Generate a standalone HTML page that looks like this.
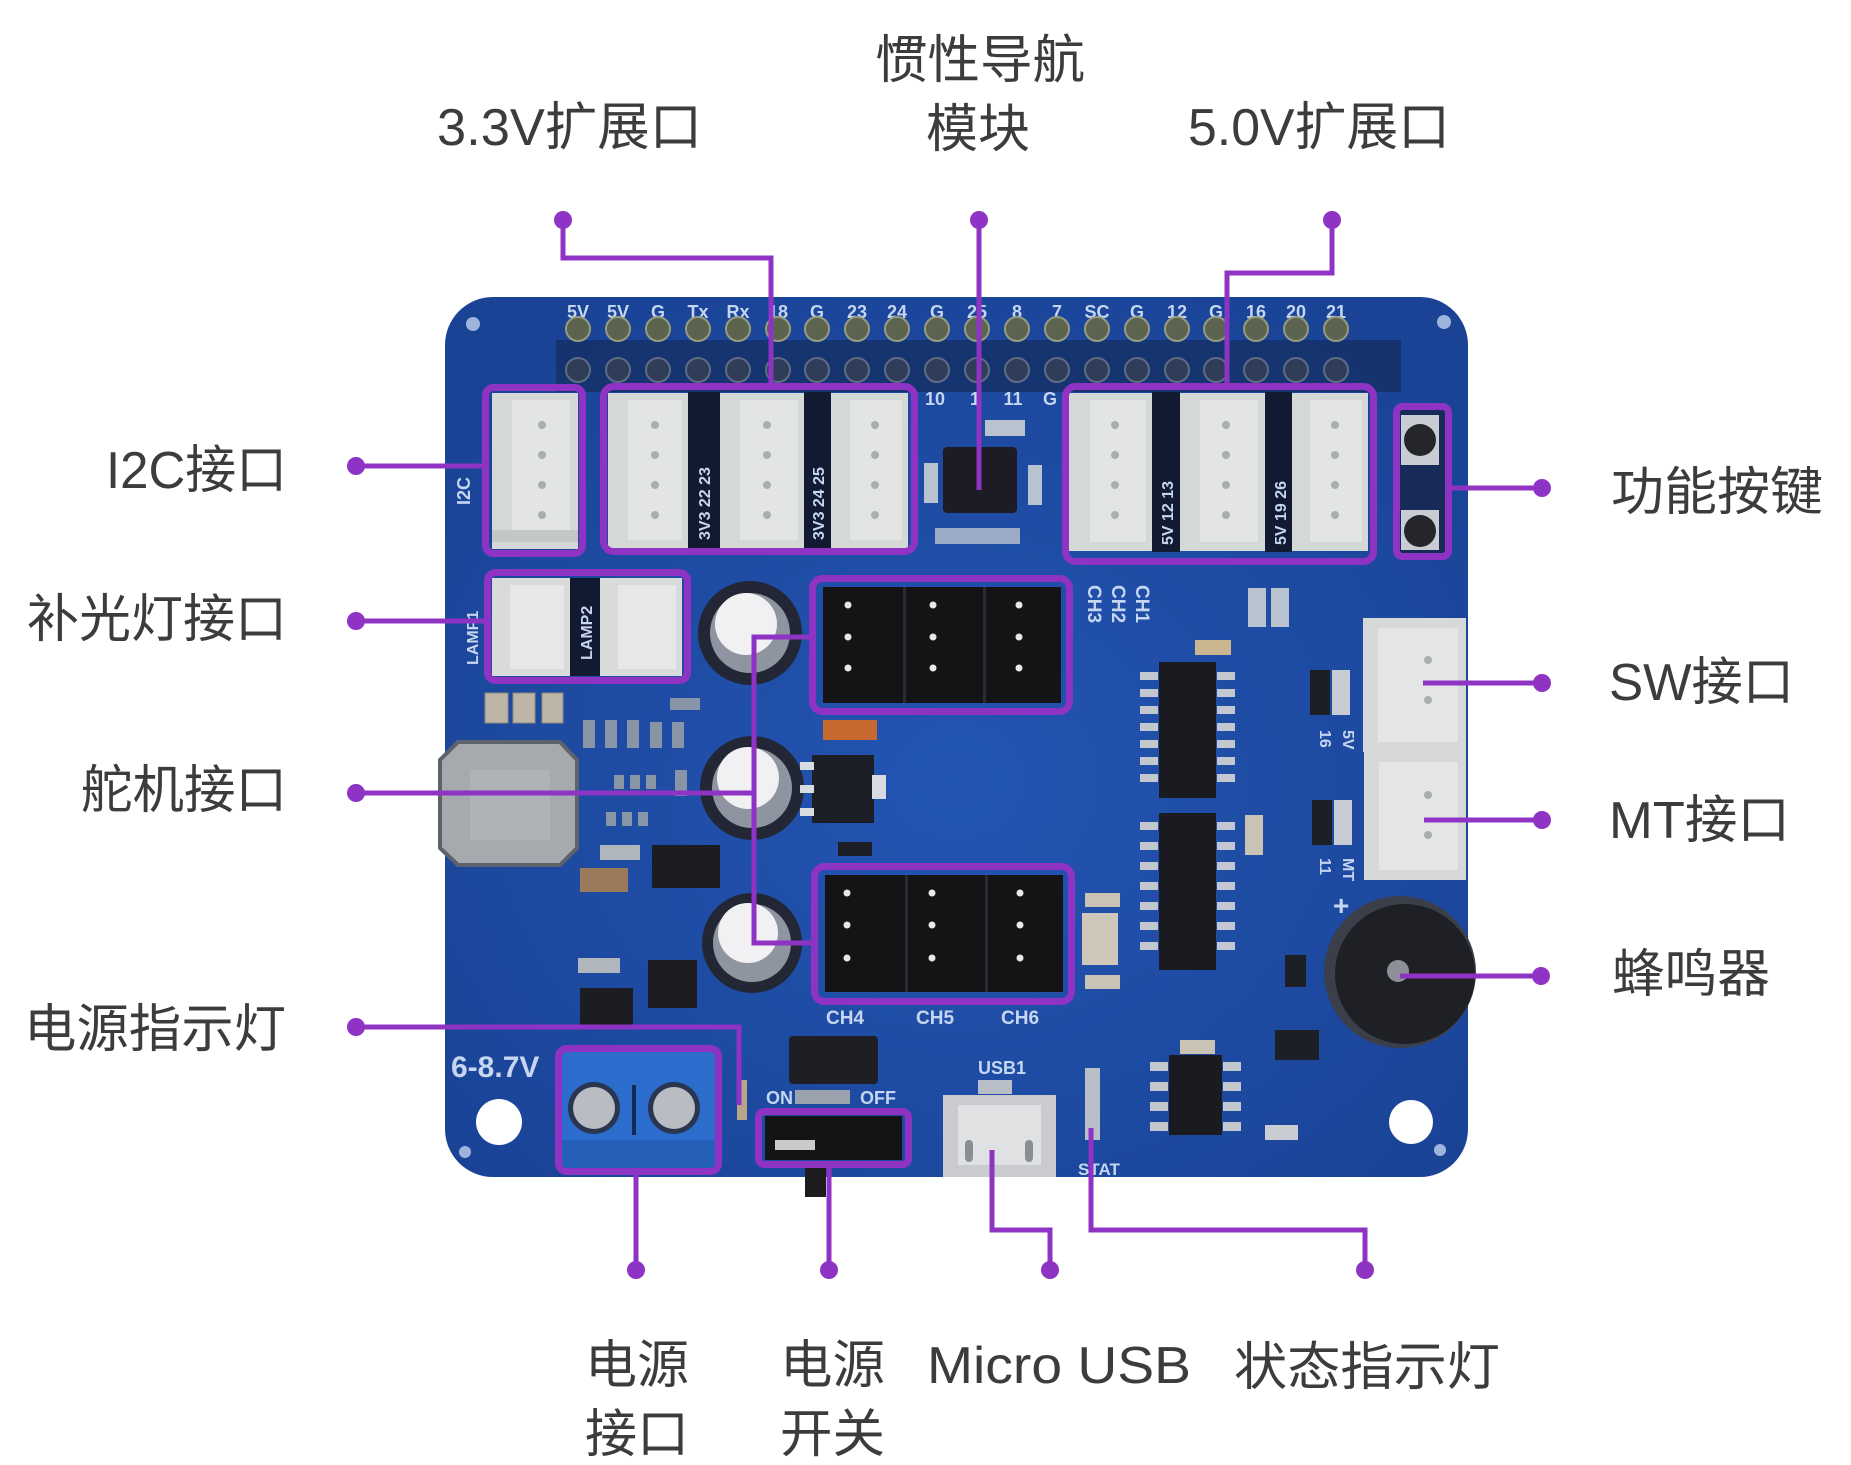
<!DOCTYPE html>
<html><head><meta charset="utf-8">
<style>
html,body{margin:0;padding:0;background:#fff;}
svg{display:block;}
.lbl{font-family:"Liberation Sans","Noto Sans CJK SC",sans-serif;font-size:52px;fill:#3c3c3c;}
.silk{font-family:"Liberation Sans",sans-serif;font-weight:bold;fill:#c6d6f0;}
</style></head><body>
<svg width="1851" height="1465" viewBox="0 0 1851 1465" xmlns="http://www.w3.org/2000/svg">
<defs>
<radialGradient id="pcb" cx="50%" cy="55%" r="65%">
<stop offset="0" stop-color="#2355b3"/><stop offset="1" stop-color="#1a4396"/>
</radialGradient>
</defs>
<rect width="1851" height="1465" fill="#fff"/>

<!-- BOARD -->
<rect x="445" y="297" width="1023" height="880" rx="48" fill="url(#pcb)"/>
<rect x="556" y="340" width="845" height="52" fill="#16326a" opacity="0.9"/>

<!-- header silk labels -->
<g class="silk" font-size="18" text-anchor="middle">
<text x="578" y="318">5V</text><text x="618" y="318">5V</text><text x="658" y="318">G</text><text x="698" y="318">Tx</text><text x="738" y="318">Rx</text>
<text x="778" y="318">18</text><text x="817" y="318">G</text><text x="857" y="318">23</text><text x="897" y="318">24</text><text x="937" y="318">G</text>
<text x="977" y="318">25</text><text x="1017" y="318">8</text><text x="1057" y="318">7</text><text x="1097" y="318">SC</text><text x="1137" y="318">G</text>
<text x="1177" y="318">12</text><text x="1216" y="318">G</text><text x="1256" y="318">16</text><text x="1296" y="318">20</text><text x="1336" y="318">21</text>
<text x="935" y="405">10</text><text x="975" y="405">1</text><text x="1013" y="405">11</text><text x="1050" y="405">G</text>
</g>
<!-- header pins -->
<g fill="#5c644f" stroke="#959b80" stroke-width="2">
<circle cx="578" cy="329" r="12"/><circle cx="618" cy="329" r="12"/><circle cx="658" cy="329" r="12"/><circle cx="698" cy="329" r="12"/><circle cx="738" cy="329" r="12"/>
<circle cx="778" cy="329" r="12"/><circle cx="817" cy="329" r="12"/><circle cx="857" cy="329" r="12"/><circle cx="897" cy="329" r="12"/><circle cx="937" cy="329" r="12"/>
<circle cx="977" cy="329" r="12"/><circle cx="1017" cy="329" r="12"/><circle cx="1057" cy="329" r="12"/><circle cx="1097" cy="329" r="12"/><circle cx="1137" cy="329" r="12"/>
<circle cx="1177" cy="329" r="12"/><circle cx="1216" cy="329" r="12"/><circle cx="1256" cy="329" r="12"/><circle cx="1296" cy="329" r="12"/><circle cx="1336" cy="329" r="12"/>
</g>
<g fill="#2f3d58" stroke="#5f6c86" stroke-width="2">
<circle cx="578" cy="370" r="12"/><circle cx="618" cy="370" r="12"/><circle cx="658" cy="370" r="12"/><circle cx="698" cy="370" r="12"/><circle cx="738" cy="370" r="12"/>
<circle cx="778" cy="370" r="12"/><circle cx="817" cy="370" r="12"/><circle cx="857" cy="370" r="12"/><circle cx="897" cy="370" r="12"/><circle cx="937" cy="370" r="12"/>
<circle cx="977" cy="370" r="12"/><circle cx="1017" cy="370" r="12"/><circle cx="1057" cy="370" r="12"/><circle cx="1097" cy="370" r="12"/><circle cx="1137" cy="370" r="12"/>
<circle cx="1177" cy="370" r="12"/><circle cx="1216" cy="370" r="12"/><circle cx="1256" cy="370" r="12"/><circle cx="1296" cy="370" r="12"/><circle cx="1336" cy="370" r="12"/>
</g>
<!-- corner holes -->
<circle cx="473" cy="324" r="7" fill="#9fb4dc"/><circle cx="1444" cy="322" r="7" fill="#9fb4dc"/>
<circle cx="465" cy="1152" r="6" fill="#9fb4dc"/><circle cx="1440" cy="1150" r="6" fill="#9fb4dc"/>

<!-- I2C connector -->
<rect x="492" y="393" width="86" height="156" fill="#d4d8d6"/>
<rect x="512" y="400" width="58" height="140" fill="#e3e5e3"/>
<rect x="492" y="530" width="86" height="12" fill="#c3c7c5"/>
<g fill="#a9afad"><circle cx="542" cy="425" r="4"/><circle cx="542" cy="455" r="4"/><circle cx="542" cy="485" r="4"/><circle cx="542" cy="515" r="4"/></g>
<text class="silk" font-size="18" transform="translate(470,505) rotate(-90)">I2C</text>

<!-- 3.3V connectors -->
<rect x="688" y="392" width="32" height="158" fill="#111a30"/>
<rect x="804" y="392" width="27" height="158" fill="#111a30"/>
<rect x="608" y="393" width="80" height="156" fill="#d4d8d6"/>
<rect x="628" y="400" width="54" height="140" fill="#e3e5e3"/>
<rect x="720" y="393" width="84" height="156" fill="#d4d8d6"/>
<rect x="740" y="400" width="58" height="140" fill="#e3e5e3"/>
<rect x="831" y="393" width="77" height="156" fill="#d4d8d6"/>
<rect x="850" y="400" width="52" height="140" fill="#e3e5e3"/>
<g fill="#a9afad">
<circle cx="655" cy="425" r="4"/><circle cx="655" cy="455" r="4"/><circle cx="655" cy="485" r="4"/><circle cx="655" cy="515" r="4"/>
<circle cx="767" cy="425" r="4"/><circle cx="767" cy="455" r="4"/><circle cx="767" cy="485" r="4"/><circle cx="767" cy="515" r="4"/>
<circle cx="875" cy="425" r="4"/><circle cx="875" cy="455" r="4"/><circle cx="875" cy="485" r="4"/><circle cx="875" cy="515" r="4"/>
</g>
<text class="silk" font-size="16" transform="translate(710,540) rotate(-90)">3V3  22  23</text>
<text class="silk" font-size="16" transform="translate(824,540) rotate(-90)">3V3  24  25</text>

<!-- IMU chip -->
<rect x="985" y="420" width="40" height="16" fill="#b9c2cf"/>
<rect x="924" y="463" width="14" height="40" fill="#b9c2cf"/>
<rect x="1028" y="465" width="14" height="40" fill="#b9c2cf"/>
<rect x="943" y="447" width="74" height="66" rx="4" fill="#1c1d24"/>
<rect x="935" y="528" width="85" height="16" fill="#b9c2cf" opacity="0.8"/>

<!-- 5.0V connectors -->
<rect x="1152" y="392" width="28" height="160" fill="#111a30"/>
<rect x="1265" y="392" width="27" height="160" fill="#111a30"/>
<rect x="1068" y="393" width="84" height="158" fill="#d4d8d6"/>
<rect x="1090" y="400" width="56" height="142" fill="#e3e5e3"/>
<rect x="1180" y="393" width="85" height="158" fill="#d4d8d6"/>
<rect x="1200" y="400" width="58" height="142" fill="#e3e5e3"/>
<rect x="1292" y="393" width="76" height="158" fill="#d4d8d6"/>
<rect x="1310" y="400" width="52" height="142" fill="#e3e5e3"/>
<g fill="#a9afad">
<circle cx="1115" cy="425" r="4"/><circle cx="1115" cy="455" r="4"/><circle cx="1115" cy="485" r="4"/><circle cx="1115" cy="515" r="4"/>
<circle cx="1226" cy="425" r="4"/><circle cx="1226" cy="455" r="4"/><circle cx="1226" cy="485" r="4"/><circle cx="1226" cy="515" r="4"/>
<circle cx="1335" cy="425" r="4"/><circle cx="1335" cy="455" r="4"/><circle cx="1335" cy="485" r="4"/><circle cx="1335" cy="515" r="4"/>
</g>
<text class="silk" font-size="16" transform="translate(1173,545) rotate(-90)">5V  12  13</text>
<text class="silk" font-size="16" transform="translate(1286,545) rotate(-90)">5V  19  26</text>

<!-- buttons -->
<rect x="1398" y="408" width="50" height="147" fill="#172a58"/>
<rect x="1401" y="415" width="38" height="50" fill="#c9ccd2"/>
<rect x="1401" y="510" width="38" height="40" fill="#c9ccd2"/>
<circle cx="1420" cy="440" r="16" fill="#24262c"/>
<circle cx="1420" cy="531" r="16" fill="#24262c"/>

<!-- fill-light connectors -->
<rect x="570" y="578" width="30" height="98" fill="#111a30"/>
<rect x="492" y="578" width="78" height="98" fill="#d8dbda"/>
<rect x="510" y="585" width="54" height="84" fill="#e6e7e6"/>
<rect x="600" y="578" width="82" height="98" fill="#d8dbda"/>
<rect x="618" y="585" width="58" height="84" fill="#e6e7e6"/>
<text class="silk" font-size="16" transform="translate(592,660) rotate(-90)">LAMP2</text>
<text class="silk" font-size="16" transform="translate(478,665) rotate(-90)">LAMP1</text>

<!-- SMD small parts left -->
<g fill="#bdb6a6" stroke="#8f8a80" stroke-width="1">
<rect x="485" y="693" width="23" height="30"/><rect x="513" y="693" width="22" height="30"/><rect x="542" y="693" width="21" height="30"/>
</g>
<g fill="#9aa2a8" opacity="0.85">
<rect x="583" y="720" width="12" height="28"/><rect x="605" y="720" width="12" height="28"/><rect x="627" y="720" width="12" height="28"/>
<rect x="650" y="722" width="12" height="26"/><rect x="672" y="722" width="12" height="26"/>
<rect x="670" y="698" width="30" height="12"/><rect x="675" y="770" width="12" height="26"/>
<rect x="614" y="775" width="10" height="14"/><rect x="630" y="775" width="10" height="14"/><rect x="646" y="775" width="10" height="14"/>
<rect x="606" y="812" width="10" height="14"/><rect x="622" y="812" width="10" height="14"/><rect x="638" y="812" width="10" height="14"/>
</g>

<!-- inductor -->
<polygon points="458,742 560,742 577,760 577,848 560,865 458,865 440,848 440,760" fill="#a6aaaf" stroke="#5d626b" stroke-width="4"/>
<rect x="470" y="770" width="80" height="70" fill="#b2b6ba" opacity="0.7"/>

<!-- capacitors -->
<g>
<circle cx="750" cy="633" r="52" fill="#232735"/><circle cx="750" cy="633" r="40" fill="#8e95a0"/><circle cx="746" cy="624" r="31" fill="#f1f1f4"/>
<circle cx="752" cy="788" r="52" fill="#232735"/><circle cx="752" cy="788" r="40" fill="#8e95a0"/><circle cx="748" cy="778" r="31" fill="#f1f1f4"/>
<circle cx="752" cy="943" r="50" fill="#232735"/><circle cx="752" cy="943" r="39" fill="#8e95a0"/><circle cx="748" cy="933" r="30" fill="#f1f1f4"/>
</g>

<!-- servo headers -->
<rect x="823" y="587" width="238" height="116" fill="#141416"/>
<rect x="903" y="587" width="3" height="116" fill="#2c2c30"/><rect x="983" y="587" width="3" height="116" fill="#2c2c30"/>
<rect x="825" y="875" width="238" height="117" fill="#141416"/>
<rect x="905" y="875" width="3" height="117" fill="#2c2c30"/><rect x="985" y="875" width="3" height="117" fill="#2c2c30"/>
<g fill="#e8e8e8">
<circle cx="848" cy="605" r="3.5"/><circle cx="848" cy="637" r="3.5"/><circle cx="848" cy="668" r="3.5"/>
<circle cx="933" cy="605" r="3.5"/><circle cx="933" cy="637" r="3.5"/><circle cx="933" cy="668" r="3.5"/>
<circle cx="1019" cy="605" r="3.5"/><circle cx="1019" cy="637" r="3.5"/><circle cx="1019" cy="668" r="3.5"/>
<circle cx="847" cy="893" r="3.5"/><circle cx="847" cy="925" r="3.5"/><circle cx="847" cy="958" r="3.5"/>
<circle cx="932" cy="893" r="3.5"/><circle cx="932" cy="925" r="3.5"/><circle cx="932" cy="958" r="3.5"/>
<circle cx="1020" cy="893" r="3.5"/><circle cx="1020" cy="925" r="3.5"/><circle cx="1020" cy="958" r="3.5"/>
</g>
<g class="silk" font-size="19">
<text transform="translate(1088,585) rotate(90)">CH3</text>
<text transform="translate(1112,585) rotate(90)">CH2</text>
<text transform="translate(1136,585) rotate(90)">CH1</text>
<text x="826" y="1024">CH4</text><text x="916" y="1024">CH5</text><text x="1001" y="1024">CH6</text>
</g>

<!-- regulator / misc middle-left -->
<rect x="823" y="720" width="54" height="20" fill="#c76a32"/>
<rect x="812" y="755" width="62" height="68" fill="#1d1f26"/>
<g fill="#d8dbe0"><rect x="800" y="762" width="14" height="8"/><rect x="800" y="785" width="14" height="8"/><rect x="800" y="808" width="14" height="8"/><rect x="872" y="775" width="14" height="24"/></g>
<rect x="838" y="842" width="34" height="14" fill="#1d1f26"/>
<rect x="652" y="845" width="68" height="43" fill="#1c1d22"/>
<rect x="580" y="868" width="48" height="24" fill="#9b7a5c"/>
<rect x="600" y="845" width="40" height="15" fill="#b0b6be"/>
<rect x="578" y="958" width="42" height="15" fill="#b0b6be"/>
<rect x="580" y="988" width="53" height="40" fill="#1c1d22"/>
<rect x="648" y="960" width="49" height="48" fill="#1c1d22"/>
<rect x="737" y="1080" width="10" height="40" fill="#b9a58a"/>

<!-- right side ICs -->
<rect x="1195" y="640" width="36" height="15" fill="#c9b58e"/>
<rect x="1248" y="588" width="18" height="39" fill="#b9c2cf"/><rect x="1271" y="588" width="18" height="39" fill="#b9c2cf"/>
<g fill="#c3c8cf">
<rect x="1140" y="672" width="18" height="8"/><rect x="1140" y="689" width="18" height="8"/><rect x="1140" y="706" width="18" height="8"/><rect x="1140" y="723" width="18" height="8"/>
<rect x="1140" y="740" width="18" height="8"/><rect x="1140" y="757" width="18" height="8"/><rect x="1140" y="774" width="18" height="8"/>
<rect x="1217" y="672" width="18" height="8"/><rect x="1217" y="689" width="18" height="8"/><rect x="1217" y="706" width="18" height="8"/><rect x="1217" y="723" width="18" height="8"/>
<rect x="1217" y="740" width="18" height="8"/><rect x="1217" y="757" width="18" height="8"/><rect x="1217" y="774" width="18" height="8"/>
<rect x="1140" y="822" width="18" height="8"/><rect x="1140" y="842" width="18" height="8"/><rect x="1140" y="862" width="18" height="8"/><rect x="1140" y="882" width="18" height="8"/>
<rect x="1140" y="902" width="18" height="8"/><rect x="1140" y="922" width="18" height="8"/><rect x="1140" y="942" width="18" height="8"/>
<rect x="1217" y="822" width="18" height="8"/><rect x="1217" y="842" width="18" height="8"/><rect x="1217" y="862" width="18" height="8"/><rect x="1217" y="882" width="18" height="8"/>
<rect x="1217" y="902" width="18" height="8"/><rect x="1217" y="922" width="18" height="8"/><rect x="1217" y="942" width="18" height="8"/>
</g>
<rect x="1159" y="662" width="57" height="136" fill="#1a1b20"/>
<rect x="1159" y="813" width="57" height="157" fill="#1a1b20"/>
<rect x="1245" y="815" width="18" height="40" fill="#c9c3b5"/>
<rect x="1085" y="893" width="35" height="14" fill="#c9c3b5"/>
<rect x="1082" y="913" width="36" height="52" fill="#cfc8ba"/>
<rect x="1085" y="975" width="35" height="14" fill="#c9c3b5"/>
<rect x="1310" y="670" width="20" height="45" fill="#1d1f26"/><rect x="1332" y="670" width="18" height="45" fill="#c9ccd2"/>
<rect x="1312" y="800" width="20" height="45" fill="#1d1f26"/><rect x="1334" y="800" width="18" height="45" fill="#c9ccd2"/>
<g class="silk" font-size="16">
<text transform="translate(1320,730) rotate(90)">16</text><text transform="translate(1343,730) rotate(90)">5V</text>
<text transform="translate(1320,858) rotate(90)">11</text><text transform="translate(1343,858) rotate(90)">MT</text>
<text x="1333" y="915" font-size="28">+</text>
</g>

<!-- SW / MT connectors -->
<rect x="1363" y="618" width="103" height="134" fill="#d6d9d8"/>
<rect x="1378" y="628" width="80" height="114" fill="#e4e6e5"/>
<rect x="1364" y="752" width="102" height="128" fill="#d6d9d8"/>
<rect x="1379" y="762" width="79" height="108" fill="#e4e6e5"/>
<g fill="#a9afad"><circle cx="1428" cy="660" r="4"/><circle cx="1428" cy="700" r="4"/><circle cx="1428" cy="795" r="4"/><circle cx="1428" cy="835" r="4"/></g>

<!-- buzzer -->
<circle cx="1400" cy="972" r="76" fill="#3a3f4a"/>
<circle cx="1405" cy="974" r="70" fill="#1e2026"/>
<circle cx="1398" cy="971" r="11" fill="#8d9096"/>
<rect x="1285" y="955" width="21" height="32" fill="#1d1f26"/>
<rect x="1275" y="1030" width="44" height="30" fill="#1d1f26"/>

<!-- bottom right parts -->
<rect x="1180" y="1040" width="35" height="14" fill="#c9c3b5"/>
<g fill="#c3c8cf">
<rect x="1150" y="1062" width="18" height="9"/><rect x="1150" y="1082" width="18" height="9"/><rect x="1150" y="1102" width="18" height="9"/><rect x="1150" y="1122" width="18" height="9"/>
<rect x="1223" y="1062" width="18" height="9"/><rect x="1223" y="1082" width="18" height="9"/><rect x="1223" y="1102" width="18" height="9"/><rect x="1223" y="1122" width="18" height="9"/>
</g>
<rect x="1169" y="1055" width="53" height="80" fill="#1a1b20"/>
<rect x="1265" y="1125" width="33" height="15" fill="#c9ccd2"/>
<rect x="1085" y="1068" width="15" height="72" fill="#b9bfc8"/>
<text class="silk" font-size="17" x="1078" y="1175">STAT</text>

<!-- mounting holes -->
<circle cx="499" cy="1122" r="23" fill="#fff"/>
<circle cx="1411" cy="1122" r="22" fill="#fff"/>

<!-- power terminal -->
<text class="silk" font-size="30" x="451" y="1077">6-8.7V</text>
<rect x="562" y="1052" width="153" height="116" fill="#2b6ccc"/>
<rect x="562" y="1140" width="153" height="28" fill="#245fb8"/>
<circle cx="594" cy="1108" r="26" fill="#2a3550"/><circle cx="594" cy="1108" r="21" fill="#b9bcc2"/>
<circle cx="674" cy="1108" r="26" fill="#2a3550"/><circle cx="674" cy="1108" r="21" fill="#b9bcc2"/>
<rect x="632" y="1085" width="4" height="50" fill="#122a55"/>

<!-- diode, switch, usb -->
<rect x="789" y="1036" width="89" height="48" rx="4" fill="#1e1f24"/>
<text class="silk" font-size="18" x="766" y="1104">ON</text>
<rect x="795" y="1090" width="55" height="14" fill="#9aa2ae"/>
<text class="silk" font-size="18" x="860" y="1104">OFF</text>
<rect x="765" y="1116" width="137" height="44" fill="#141416"/>
<rect x="775" y="1140" width="40" height="10" fill="#c8cacc"/>
<rect x="805" y="1168" width="21" height="29" fill="#1c1c1e"/>
<text class="silk" font-size="18" x="978" y="1074">USB1</text>
<rect x="978" y="1080" width="34" height="14" fill="#b9bfc8"/>
<rect x="943" y="1095" width="113" height="82" fill="#c9cbce"/>
<rect x="958" y="1105" width="83" height="60" fill="#dfe1e3"/>
<rect x="965" y="1140" width="8" height="22" rx="4" fill="#8a8d92"/>
<rect x="1025" y="1140" width="8" height="22" rx="4" fill="#8a8d92"/>

<!-- PURPLE HIGHLIGHT BOXES -->
<g fill="none" stroke="#8f33c4" stroke-width="7">
<rect x="485.5" y="387.5" width="97" height="166" rx="8"/>
<rect x="603.5" y="386.5" width="311" height="165" rx="10"/>
<rect x="487.5" y="572.5" width="200" height="108" rx="8"/>
<rect x="1065.5" y="386.5" width="308" height="175" rx="10"/>
<rect x="1396.5" y="406.5" width="52" height="150" rx="6"/>
<rect x="812.5" y="578.5" width="257" height="133" rx="10"/>
<rect x="814.5" y="866.5" width="257" height="135" rx="10"/>
<rect x="558.5" y="1048.5" width="160" height="123" rx="8"/>
<rect x="758.5" y="1111.5" width="150" height="53" rx="6"/>
</g>

<!-- PURPLE LEADER LINES -->
<g fill="none" stroke="#8f33c4" stroke-width="5">
<path d="M563,220 V258 H771 V384"/>
<path d="M979,220 V490"/>
<path d="M1332,220 V273 H1227 V384"/>
<path d="M356,466 H483"/>
<path d="M356,621 H485"/>
<path d="M356,793 H754"/>
<path d="M810,637 H754 V943 H812"/>
<path d="M356,1027 H739 V1105"/>
<path d="M1451,488 H1542"/>
<path d="M1423,683 H1542"/>
<path d="M1424,820 H1542"/>
<path d="M1400,976 H1541"/>
<path d="M636,1174 V1270"/>
<path d="M829,1166 V1270"/>
<path d="M992,1150 V1230 H1050 V1270"/>
<path d="M1091,1128 V1230 H1365 V1270"/>
</g>
<g fill="#8f33c4">
<circle cx="563" cy="220" r="9"/><circle cx="979" cy="220" r="9"/><circle cx="1332" cy="220" r="9"/>
<circle cx="356" cy="466" r="9"/><circle cx="356" cy="621" r="9"/><circle cx="356" cy="793" r="9"/><circle cx="356" cy="1027" r="9"/>
<circle cx="1542" cy="488" r="9"/><circle cx="1542" cy="683" r="9"/><circle cx="1542" cy="820" r="9"/><circle cx="1541" cy="976" r="9"/>
<circle cx="636" cy="1270" r="9"/><circle cx="829" cy="1270" r="9"/><circle cx="1050" cy="1270" r="9"/><circle cx="1365" cy="1270" r="9"/>
</g>

<!-- LABELS -->
<g class="lbl">
<text x="437" y="145" textLength="265" lengthAdjust="spacingAndGlyphs">3.3V扩展口</text>
<text x="875" y="78" textLength="210" lengthAdjust="spacingAndGlyphs">惯性导航</text>
<text x="926" y="147" textLength="104" lengthAdjust="spacingAndGlyphs">模块</text>
<text x="1188" y="145" textLength="262" lengthAdjust="spacingAndGlyphs">5.0V扩展口</text>

<text x="106" y="488" textLength="181" lengthAdjust="spacingAndGlyphs">I2C接口</text>
<text x="27" y="637" textLength="260" lengthAdjust="spacingAndGlyphs">补光灯接口</text>
<text x="81" y="808" textLength="206" lengthAdjust="spacingAndGlyphs">舵机接口</text>
<text x="24" y="1047" textLength="262" lengthAdjust="spacingAndGlyphs">电源指示灯</text>

<text x="1611" y="510" textLength="212" lengthAdjust="spacingAndGlyphs">功能按键</text>
<text x="1609" y="700" textLength="185" lengthAdjust="spacingAndGlyphs">SW接口</text>
<text x="1609" y="838" textLength="181" lengthAdjust="spacingAndGlyphs">MT接口</text>
<text x="1612" y="992" textLength="158" lengthAdjust="spacingAndGlyphs">蜂鸣器</text>

<text x="585" y="1383" textLength="104" lengthAdjust="spacingAndGlyphs">电源</text>
<text x="585" y="1452" textLength="104" lengthAdjust="spacingAndGlyphs">接口</text>
<text x="780" y="1383" textLength="105" lengthAdjust="spacingAndGlyphs">电源</text>
<text x="780" y="1452" textLength="105" lengthAdjust="spacingAndGlyphs">开关</text>
<text x="927" y="1383" textLength="264" lengthAdjust="spacingAndGlyphs">Micro USB</text>
<text x="1234" y="1385" textLength="266" lengthAdjust="spacingAndGlyphs">状态指示灯</text>
</g>
</svg>
</body></html>
